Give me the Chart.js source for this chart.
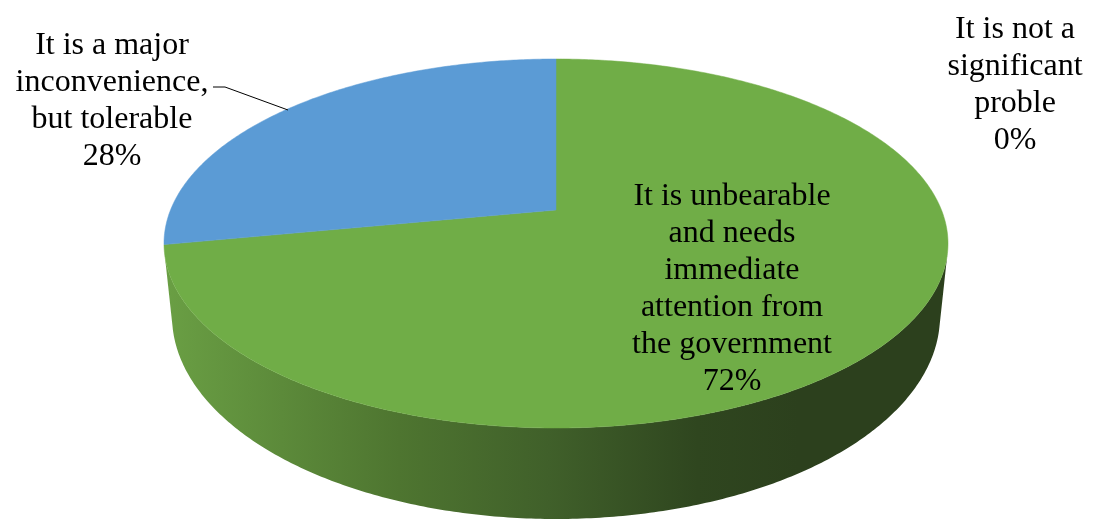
<!DOCTYPE html>
<html>
<head>
<meta charset="utf-8">
<style>
  html, body { margin: 0; background: #fff; }
  canvas { display: block; }
</style>
<script src="https://cdn.jsdelivr.net/npm/chart.js@4/dist/chart.umd.js"></script>
</head>
<body>
<canvas id="pie" width="1094" height="529"></canvas>
<script>
const categories = [
  'It is unbearable and needs immediate attention from the government',
  'It is a major inconvenience, but tolerable',
  'It is not a significant proble'
];
const shares = [72, 28, 0];
const sliceColors = ['#70AD47', '#5B9BD5', '#A5A5A5'];

const unbearableLines = ['It is unbearable', 'and needs', 'immediate', 'attention from', 'the government', '72%'];
const majorLines = ['It is a major', 'inconvenience,', 'but tolerable', '28%'];
const notSignificantLines = ['It is not a', 'significant', 'proble', '0%'];

const FONT = '32px "Liberation Serif", "Times New Roman", serif';
const LINE_HEIGHT = 36.9;

// the top face and the base are the same circle seen in perspective
const topFace = { cx: 556, top: 59, mid: 210, bottom: 428, halfWidth: 392 };
const bend = (2 * topFace.mid - topFace.top - topFace.bottom) / (topFace.bottom - topFace.top);
const baseFace = { cx: 556, top: 113, bottom: 519, halfWidth: 384 };
baseFace.mid = (baseFace.top + baseFace.bottom + bend * (baseFace.bottom - baseFace.top)) / 2;

function project(face, angle) {
  const x = Math.cos(angle);
  const y = Math.sin(angle);
  const a = face.bottom * (1 + bend) - face.mid;
  const w = 1 + bend * y;
  return {
    x: face.cx + face.halfWidth * Math.sqrt(1 - bend * bend) * x / w,
    y: (a * y + face.mid) / w
  };
}

function sliceAngles(arc) {
  const steps = Math.max(1, Math.ceil((arc.endAngle - arc.startAngle) / 0.01));
  const out = [];
  for (let i = 0; i <= steps; i++) {
    out.push(arc.startAngle + (arc.endAngle - arc.startAngle) * i / steps);
  }
  return out;
}

function drawWall(ctx, arc, fill) {
  const angles = sliceAngles(arc);
  ctx.beginPath();
  for (let i = 0; i < angles.length - 1; i++) {
    const a = project(topFace, angles[i]);
    const b = project(topFace, angles[i + 1]);
    const c = project(baseFace, angles[i + 1]);
    const d = project(baseFace, angles[i]);
    // only the quads that face the viewer
    const cross = (b.x - a.x) * (d.y - a.y) - (b.y - a.y) * (d.x - a.x);
    if (cross >= 0) continue;
    ctx.moveTo(a.x, a.y);
    ctx.lineTo(b.x, b.y);
    ctx.lineTo(c.x, c.y);
    ctx.lineTo(d.x, d.y);
    ctx.closePath();
  }
  ctx.fillStyle = fill;
  ctx.fill();
}

function drawTop(ctx, arc, color) {
  ctx.beginPath();
  ctx.moveTo(topFace.cx, topFace.mid);
  sliceAngles(arc).forEach(angle => {
    const p = project(topFace, angle);
    ctx.lineTo(p.x, p.y);
  });
  ctx.closePath();
  ctx.fillStyle = color;
  ctx.fill();
  ctx.strokeStyle = color;
  ctx.lineWidth = 0.5;
  ctx.stroke();
}

function drawLabel(ctx, lines, x, firstBaseline) {
  ctx.font = FONT;
  ctx.fillStyle = '#000';
  ctx.textAlign = 'center';
  ctx.textBaseline = 'alphabetic';
  lines.forEach((line, i) => ctx.fillText(line, x, firstBaseline + i * LINE_HEIGHT));
}

const tiltedPie = {
  id: 'tiltedPie',
  beforeDatasetsDraw(chart) {
    const ctx = chart.ctx;
    const arcs = chart.getDatasetMeta(0).data;

    const wallFill = ctx.createLinearGradient(164, 0, 948, 0);
    wallFill.addColorStop(0, '#6A9F44');
    wallFill.addColorStop(0.30, '#4E7530');
    wallFill.addColorStop(0.49, '#40602A');
    wallFill.addColorStop(0.68, '#2F461F');
    wallFill.addColorStop(0.81, '#2C401D');
    wallFill.addColorStop(1, '#2C401D');

    ctx.save();
    arcs.forEach((arc, i) => {
      if (shares[i] > 0) drawWall(ctx, arc, wallFill);
    });
    arcs.forEach((arc, i) => {
      if (shares[i] > 0) drawTop(ctx, arc, sliceColors[i]);
    });

    // leader line for the blue slice
    ctx.beginPath();
    ctx.moveTo(213, 87);
    ctx.lineTo(225, 87);
    ctx.lineTo(288, 110);
    ctx.strokeStyle = '#000';
    ctx.lineWidth = 1;
    ctx.stroke();

    drawLabel(ctx, majorLines, 112, 54);
    drawLabel(ctx, notSignificantLines, 1015, 38);
    drawLabel(ctx, unbearableLines, 732, 205);
    ctx.restore();
    return false;
  }
};

new Chart(document.getElementById('pie'), {
  type: 'pie',
  data: {
    labels: categories,
    datasets: [{ data: shares, backgroundColor: sliceColors, borderWidth: 0 }]
  },
  options: {
    responsive: false,
    animation: false,
    plugins: { legend: { display: false }, tooltip: { enabled: false } }
  },
  plugins: [tiltedPie]
});
</script>
</body>
</html>
